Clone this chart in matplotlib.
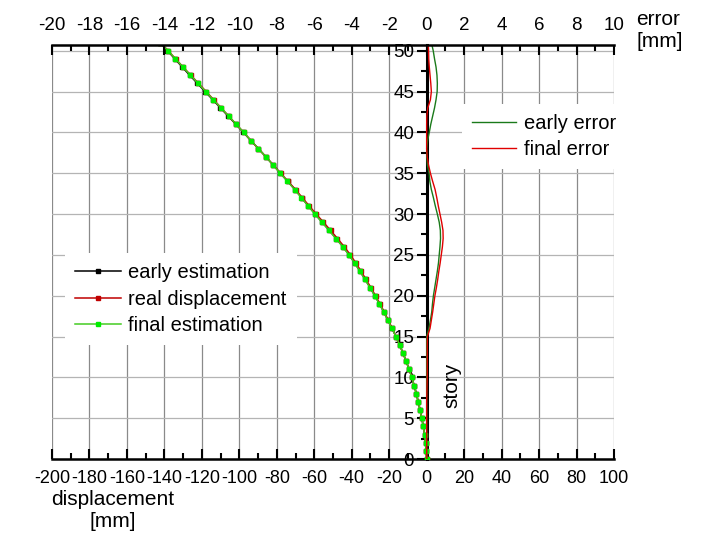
import numpy as np
import matplotlib
matplotlib.use('Agg')
from matplotlib import pyplot as plt
from matplotlib.ticker import MultipleLocator

# story levels (last point is just above the top of the plot)
story = list(range(52))

# displacement [mm]
real_disp = [0, -0.2, -0.6, -1.1, -1.8, -2.6, -3.5, -4.5, -5.5, -6.7,
             -7.9, -9.4, -11.0, -12.7, -14.5, -16.4, -18.4, -20.5, -22.6, -24.9,
             -27.3, -29.8, -32.4, -35.0, -37.8, -40.7, -44.0, -47.6, -51.3, -55.1,
             -59.0, -62.7, -66.4, -70.0, -74.0, -78.0, -81.9, -85.8, -89.8, -93.8,
             -97.7, -101.7, -105.7, -109.7, -113.7, -117.7, -121.8, -125.9, -130.0, -134.0,
             -138.0, -142.1]
early_est = [0, -0.2, -0.6, -1.1, -1.8, -2.6, -3.5, -4.5, -5.5, -6.7,
             -7.9, -9.4, -11.0, -12.7, -14.5, -16.4, -18.5, -20.7, -22.9, -25.2,
             -27.7, -30.2, -32.9, -35.6, -38.4, -41.4, -44.7, -48.3, -52.0, -55.8,
             -59.6, -63.2, -66.8, -70.3, -74.2, -78.1, -81.9, -85.8, -89.8, -93.9,
             -97.8, -101.9, -106.0, -110.1, -114.2, -118.3, -122.4, -126.5, -130.5, -134.4,
             -138.4, -142.4]
final_est = [0, -0.2, -0.6, -1.1, -1.8, -2.6, -3.5, -4.5, -5.5, -6.7,
             -7.9, -9.4, -11.0, -12.7, -14.5, -16.4, -18.6, -20.8, -22.9, -25.3,
             -27.7, -30.3, -33.0, -35.7, -38.5, -41.5, -44.8, -48.5, -52.2, -55.9,
             -59.7, -63.3, -66.9, -70.5, -74.3, -78.2, -82.0, -85.8, -89.8, -93.8,
             -97.7, -101.7, -105.7, -109.8, -113.9, -118.0, -122.0, -126.1, -130.1, -134.1,
             -138.1, -142.2]

# estimation error [mm]
early_err = [0, 0, 0, 0, 0, 0, 0, 0, 0, 0,
             0, 0, 0, 0, 0, 0.0, 0.12, 0.2, 0.27, 0.31,
             0.36, 0.43, 0.5, 0.57, 0.63, 0.67, 0.71, 0.74, 0.73, 0.67,
             0.57, 0.46, 0.36, 0.25, 0.17, 0.13, 0.04, 0.01, 0.0, 0.05,
             0.14, 0.22, 0.32, 0.42, 0.5, 0.56, 0.57, 0.55, 0.5, 0.42,
             0.35, 0.25]
final_err = [0, 0, 0, 0, 0, 0, 0, 0, 0.01, 0.02,
             0.03, 0.03, 0.03, 0.03, 0.03, 0.04, 0.18, 0.25, 0.32, 0.38,
             0.44, 0.52, 0.59, 0.65, 0.72, 0.78, 0.84, 0.88, 0.87, 0.8,
             0.71, 0.62, 0.54, 0.45, 0.32, 0.2, 0.1, 0.03, 0.0, 0.0,
             0.0, 0.0, 0.01, 0.06, 0.2, 0.25, 0.22, 0.18, 0.14, 0.11,
             0.1, 0.08]

plt.rcParams['font.family'] = ['Liberation Sans', 'DejaVu Sans']
plt.rcParams['axes.unicode_minus'] = False

W, H = 706, 547
fig = plt.figure(figsize=(W / 100, H / 100), dpi=100)
ax = fig.add_axes([52 / W, 1 - 459 / H, (614 - 52) / W, (459 - 45) / H])

ax.plot(early_est, story, color='black', lw=1.1, marker='s', ms=3.5,
        label='early estimation', zorder=3)
ax.plot(real_disp, story, color='#c00000', lw=1.1, marker='s', ms=3.5,
        label='real displacement', zorder=3)
ax.plot(final_est, story, color='#44cc22', lw=1.1, marker='s', ms=3.5,
        mfc='#00ee00', mec='#00ee00', label='final estimation', zorder=3)

ax.set_xlim(-200, 100)
ax.set_ylim(0, 50.7)

# spines: y axis sits at displacement 0
ax.spines['left'].set_position(('data', 0))
ax.spines['left'].set_linewidth(2.2)
ax.spines['right'].set_visible(False)
ax.spines['top'].set_visible(False)
ax.spines['bottom'].set_linewidth(1.8)

ax.xaxis.set_major_locator(MultipleLocator(20))
ax.xaxis.set_minor_locator(MultipleLocator(10))
ax.yaxis.set_major_locator(MultipleLocator(5))
ax.yaxis.set_minor_locator(MultipleLocator(2.5))
ax.tick_params(axis='x', which='both', direction='in', top=False, labelsize=13,
               pad=8, width=1.5)
ax.tick_params(axis='x', which='major', length=7)
ax.tick_params(axis='x', which='minor', length=4)
ax.tick_params(axis='y', which='both', direction='out', labelsize=13.5, pad=2,
               width=1.5)
ax.tick_params(axis='y', which='major', length=7)
ax.tick_params(axis='y', which='minor', length=4)

ax.grid(True, axis='x', which='major', color='#8a8a8a', lw=0.9, zorder=0)
ax.grid(True, axis='y', which='major', color='#b4b4b4', lw=0.9, zorder=0)
ax.set_axisbelow(True)

ax.legend(loc='upper left', bbox_to_anchor=(65 / W, 1 - 253 / H),
          bbox_transform=fig.transFigure, fontsize=14.5, frameon=True,
          facecolor='white', edgecolor='none', framealpha=1,
          fancybox=False, borderaxespad=0, borderpad=0.5,
          handlelength=2.3, handletextpad=0.35, labelspacing=0.38,
          numpoints=1)

# error axis on top
ax2 = ax.twiny()
ax2.set_xlim(-20, 10)
ax2.plot(early_err, story, color='#1a7a1a', lw=1.0, label='early error')
ax2.plot(final_err, story, color='#e00000', lw=1.0, label='final error')
for s in ['left', 'right', 'bottom']:
    ax2.spines[s].set_visible(False)
ax2.spines['top'].set_linewidth(1.8)
ax2.xaxis.set_major_locator(MultipleLocator(2))
ax2.xaxis.set_minor_locator(MultipleLocator(1))
ax2.tick_params(axis='x', which='both', direction='in', labelsize=13.5, pad=8,
                width=1.5)
ax2.tick_params(axis='x', which='major', length=7)
ax2.tick_params(axis='x', which='minor', length=4)
ax2.legend(loc='upper left', bbox_to_anchor=(462 / W, 1 - 104 / H),
           bbox_transform=fig.transFigure, fontsize=14.5, frameon=True,
           facecolor='white', edgecolor='none', framealpha=1, fancybox=False,
           borderaxespad=0, borderpad=0.5, handlelength=2.2,
           handletextpad=0.4, labelspacing=0.33)

ax.text(452 / W, 1 - 385 / H, 'story', transform=fig.transFigure,
        rotation=90, fontsize=15, ha='center', va='center')
fig.text(636 / W, 1 - 10 / H, 'error\n[mm]', fontsize=15, ha='left',
         va='top', linespacing=1.2)
fig.text(113 / W, 1 - 490 / H, 'displacement\n[mm]', fontsize=15,
         ha='center', va='top', linespacing=1.2)

plt.savefig('out.png', dpi=100)
